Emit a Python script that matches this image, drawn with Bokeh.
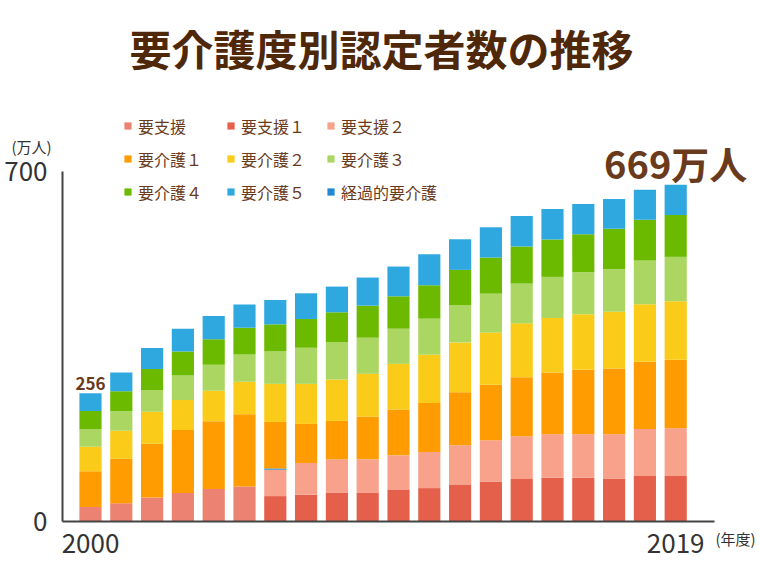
from bokeh.plotting import figure
from bokeh.models import ColumnDataSource, Range1d, FixedTicker, Label, Legend, LegendItem, LinearAxis
from bokeh.embed import file_html
from bokeh.resources import INLINE

# ---------------- data (万人) ----------------
years = list(range(2000, 2020))
shien = [29.0, 36.7, 48.0, 56.8, 64.8, 70.2, 0, 0, 0, 0, 0, 0, 0, 0, 0, 0, 0, 0, 0, 0]
shien1 = [0, 0, 0, 0, 0, 0, 50.8, 53.5, 58.1, 58.1, 64.2, 66.8, 74.2, 80.0, 84.9, 87.5, 87.5, 86.2, 90.9, 90.9]
shien2 = [0, 0, 0, 0, 0, 0, 52.8, 63.5, 66.2, 66.2, 68.1, 72.2, 78.2, 82.5, 85.5, 86.9, 86.9, 88.2, 94.2, 95.6]
keika = [0, 0, 0, 0, 0, 0, 2.5, 0, 0, 0, 0, 0, 0, 0, 0, 0, 0, 0, 0, 0]
kaigo1 = [71.6, 89.0, 107.7, 126.3, 135.7, 144.4, 93.0, 78.1, 76.9, 85.5, 91.6, 98.2, 106.2, 111.0, 118.3, 123.7, 129.0, 131.7, 134.3, 137.0]
kaigo2 = [48.7, 56.0, 64.0, 60.0, 60.8, 64.8, 76.2, 80.2, 82.8, 85.6, 91.5, 96.3, 99.6, 104.3, 107.6, 108.9, 110.9, 113.6, 115.0, 116.9]
kaigo3 = [35.5, 39.0, 43.4, 49.0, 52.0, 54.8, 64.9, 72.2, 74.2, 72.2, 70.2, 72.2, 74.8, 77.9, 79.5, 82.2, 84.3, 84.9, 87.5, 88.9]
kaigo4 = [36.1, 40.0, 42.0, 48.0, 51.0, 53.4, 54.1, 57.5, 60.2, 64.1, 64.8, 66.8, 70.2, 72.2, 74.2, 74.8, 76.1, 80.8, 81.6, 83.5]
kaigo5 = [35.4, 37.5, 42.0, 45.4, 46.7, 46.2, 48.8, 51.4, 51.4, 56.2, 59.5, 62.1, 61.5, 60.8, 60.8, 60.9, 60.2, 59.5, 60.1, 60.8]

series_keys = ["shien", "shien1", "shien2", "keika", "kaigo1", "kaigo2", "kaigo3", "kaigo4", "kaigo5"]
series_labels = ["要支援", "要支援１", "要支援２", "経過的要介護", "要介護１", "要介護２", "要介護３", "要介護４", "要介護５"]
series_colors = ["#ec8272", "#e5604a", "#f9a28b", "#1e88d6", "#fe9c01", "#facc19", "#aad661", "#6cba00", "#2fa8e0"]

y_ticks = [0, 700]
x_ticks = [2000, 2019]
title_text = "要介護度別認定者数の推移"
first_label = "256"
last_label = "669万人"
y_unit = "(万人)"
x_unit = "(年度)"

legend_columns = [
    ["要支援", "要介護１", "要介護４"],
    ["要支援１", "要介護２", "要介護５"],
    ["要支援２", "要介護３", "経過的要介護"],
]

source = ColumnDataSource(dict(year=years, shien=shien, shien1=shien1, shien2=shien2, keika=keika,
                               kaigo1=kaigo1, kaigo2=kaigo2, kaigo3=kaigo3, kaigo4=kaigo4, kaigo5=kaigo5))
totals = [sum(v) for v in zip(shien, shien1, shien2, keika, kaigo1, kaigo2, kaigo3, kaigo4, kaigo5)]

# ---------------- layout helpers (canvas pixels) ----------------
W, H = 760, 570
AX_L, AX_R, AX_B = 62, 714, 521   # axis corner positions
PITCH = 30.8                      # px per year
YPX = 0.5                         # px per 万人
X0 = 2000 - (90 - AX_L) / PITCH   # data x at the y axis

def px_x(ix):
    return X0 + (ix - AX_L) / PITCH

def px_y(iy):
    return (AX_B - iy) / YPX

JP = "Noto Sans CJK JP"
BROWN = "#6a3a1c"

p = figure(width=W, height=H, x_range=Range1d(px_x(0), px_x(W)), y_range=Range1d(px_y(H), px_y(0)),
           output_backend="svg", toolbar_location=None, min_border=0,
           x_axis_location=None, y_axis_location=None)
p.outline_line_color = None
p.xgrid.visible = False
p.ygrid.visible = False
p.background_fill_color = "white"
p.border_fill_color = "white"

renderers = p.vbar_stack(series_keys, x="year", width=0.72, color=series_colors,
                         line_color=None, source=source)
rmap = dict(zip(series_labels, renderers))

# axes placed at fixed locations
yax = LinearAxis(ticker=FixedTicker(ticks=y_ticks), fixed_location=X0, bounds=(0, 700))
xax = LinearAxis(ticker=FixedTicker(ticks=x_ticks), fixed_location=0, bounds=(X0, px_x(AX_R)))
for ax in (xax, yax):
    ax.axis_line_color = "#444444"
    ax.axis_line_width = 2
    ax.major_tick_line_color = None
    ax.minor_tick_line_color = None
    ax.major_label_text_font = JP
    ax.major_label_text_font_size = "26px"
    ax.major_label_text_color = "#333333"
yax.major_label_standoff = 9
xax.major_label_standoff = 6
p.add_layout(yax, "left")
p.add_layout(xax, "below")

# legends (one per column)
col_x = [123, 226, 326]
for cx, labels in zip(col_x, legend_columns):
    items = [LegendItem(label=l, renderers=[rmap[l]]) for l in labels]
    leg = Legend(items=items, location=(cx, H - 204), orientation="vertical",
                 glyph_width=9, glyph_height=9, label_standoff=6, label_height=25,
                 spacing=8, padding=0, margin=0, border_line_color=None,
                 background_fill_alpha=0, label_text_font=JP, label_text_font_size="16px",
                 label_text_color=BROWN)
    p.add_layout(leg)

# texts
p.add_layout(Label(x=px_x(381), y=px_y(47), text=title_text, text_align="center",
                   text_baseline="middle", text_font=JP, text_font_size="42px",
                   text_font_style="bold", text_color="#4f280a"))
p.add_layout(Label(x=years[0], y=totals[0] + 20, text=first_label, text_align="center",
                   text_baseline="alphabetic", text_font=JP, text_font_size="17px",
                   text_font_style="bold", text_color=BROWN))
p.add_layout(Label(x=years[-1], y=totals[-1] + 44, text=last_label, text_align="center",
                   text_baseline="alphabetic", text_font=JP, text_font_size="38px",
                   text_font_style="bold", text_color=BROWN))
p.add_layout(Label(x=px_x(31), y=px_y(146), text=y_unit, text_align="center",
                   text_baseline="middle", text_font=JP, text_font_size="15px",
                   text_color="#333333"))
p.add_layout(Label(x=px_x(735), y=px_y(538), text=x_unit, text_align="center",
                   text_baseline="middle", text_font=JP, text_font_size="15px",
                   text_color="#333333"))

open("out.html", "w").write(file_html(p, INLINE))
